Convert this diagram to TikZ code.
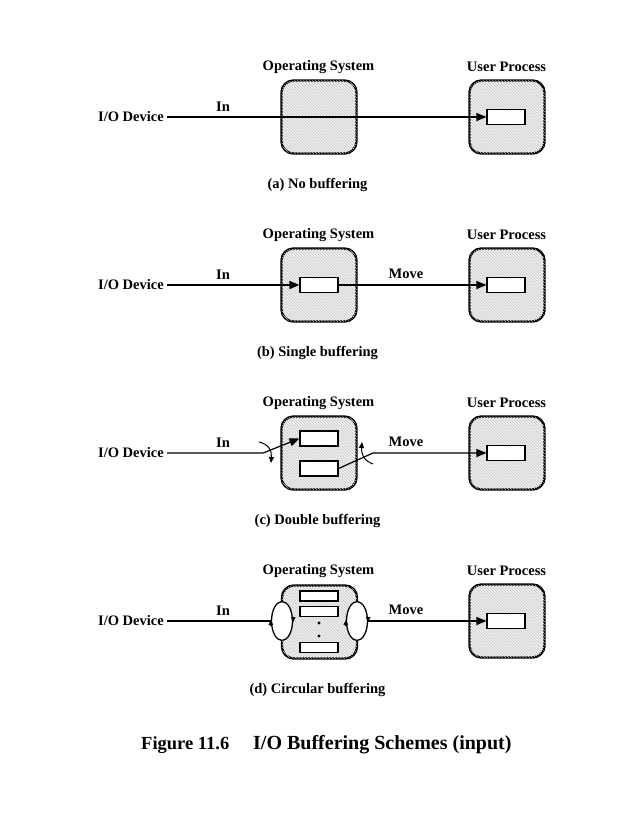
\documentclass[tikz,border=0pt]{standalone}
\usepackage{fontspec}
\setmainfont{Liberation Serif}
\usetikzlibrary{arrows.meta,patterns,shapes.geometric}
\begin{document}
\begin{tikzpicture}[x=1pt,y=-1pt,
  lbl/.style={font=\fontsize{14.5}{17}\selectfont\bfseries, inner sep=0pt},
  figcap/.style={font=\fontsize{18.5}{22}\selectfont\bfseries, inner sep=0pt, anchor=west},
  proc/.style={draw, line width=2.4pt, rounded corners=12pt, minimum width=75pt, minimum height=73pt,
    fill=gray!12, postaction={pattern=north west lines, pattern color=gray!45}},
  buf/.style={draw, fill=white, line width=1.1pt, minimum width=38pt, minimum height=15pt, inner sep=0pt},
  sbuf/.style={buf, minimum height=10pt},
  conn/.style={line width=1.2pt},
  arr/.style={conn, -{Triangle[length=10pt,width=8pt]}},
  sarr/.style={line width=1pt, -{Triangle[length=6pt,width=5pt]}},
  ring/.style={draw, ellipse, line width=1.3pt, fill=white, minimum width=21pt, minimum height=39pt, inner sep=0pt},
  tip/.style={-{Triangle[length=5pt,width=4.5pt]}, line width=0.8pt}
]
\fill[white] (0,0) rectangle (637,824);
\useasboundingbox (0,0) rectangle (637,824);

% ---------------- (a) ----------------
\node[lbl] (osa-t) at (318.5,67) {Operating System};
\node[lbl] (upa-t) at (506.5,67) {User Process};
\node[proc] (osa) at (319,117) {};
\node[proc] (upa) at (507,117) {};
\node[buf] (upa-b) at (506,117) {};
\node[lbl, anchor=east] (ioa) at (164,117) {I/O Device};
\draw[arr] ([xshift=3pt]ioa.east) -- (upa-b.west);
\node[lbl] (ina) at (223,107) {In};
\node[lbl] (capa) at (317.5,185) {(a) No buffering};

% ---------------- (b) ----------------
\node[lbl] (osb-t) at (318.5,235) {Operating System};
\node[lbl] (upb-t) at (506.5,235) {User Process};
\node[proc] (osb) at (319,285) {};
\node[proc] (upb) at (507,285) {};
\node[buf] (osb-b) at (319,285) {};
\node[buf] (upb-b) at (506,285) {};
\node[lbl, anchor=east] (iob) at (164,285) {I/O Device};
\draw[arr] ([xshift=3pt]iob.east) -- (osb-b.west);
\draw[arr] (osb-b.east) -- (upb-b.west);
\node[lbl] (inb) at (223,275) {In};
\node[lbl] (mvb) at (406,274) {Move};
\node[lbl] (capb) at (317.5,353) {(b) Single buffering};

% ---------------- (c) ----------------
\node[lbl] (osc-t) at (318.5,403) {Operating System};
\node[lbl] (upc-t) at (506.5,403) {User Process};
\node[proc] (osc) at (319,453) {};
\node[proc] (upc) at (507,453) {};
\node[buf] (osc-b1) at (319,438.5) {};
\node[buf] (osc-b2) at (319,468.5) {};
\node[buf] (upc-b) at (506,453) {};
\node[lbl, anchor=east] (ioc) at (164,453) {I/O Device};
\coordinate (kc1) at (263,453);
\coordinate (kc2) at (373,453);
\draw[arr] ([xshift=3pt]ioc.east) -- (kc1) -- (osc-b1.west);
\draw[arr] (osc-b2.east) -- (kc2) -- (upc-b.west);
\draw[sarr] (259,442) .. controls (268,444) and (272,450) .. (271,463);
\draw[sarr] (373,464) .. controls (364,461) and (361,454) .. (362,442);
\node[lbl] (inc) at (223,443) {In};
\node[lbl] (mvc) at (406,442) {Move};
\node[lbl] (capc) at (317.5,521) {(c) Double buffering};

% ---------------- (d) ----------------
\node[lbl] (osd-t) at (318.5,571) {Operating System};
\node[lbl] (upd-t) at (506.5,571) {User Process};
\node[proc] (osd) at (319.5,622) {};
\node[proc] (upd) at (507,621) {};
\node[sbuf] (osd-b1) at (319,596) {};
\node[sbuf] (osd-b2) at (319,611.5) {};
\node[sbuf] (osd-b3) at (319,647.5) {};
\fill (319,623) circle[radius=1.6];
\fill (319,636) circle[radius=1.6];
\node[buf] (upd-b) at (506,621) {};
\node[ring] (rl) at (282,621) {};
\node[ring] (rr) at (357,621) {};
\draw[tip] ([yshift=-4pt]rl.west) -- ([yshift=1pt]rl.west);
\draw[tip] ([yshift=4pt]rl.east) -- ([yshift=-1pt]rl.east);
\draw[tip] ([yshift=-4pt]rr.west) -- ([yshift=1pt]rr.west);
\draw[tip] ([yshift=4pt]rr.east) -- ([yshift=-1pt]rr.east);
\node[lbl, anchor=east] (iod) at (164,621) {I/O Device};
\draw[conn] ([xshift=3pt]iod.east) -- (rl.west);
\draw[arr] (rr.east) -- (upd-b.west);
\node[lbl] (ind) at (223,611) {In};
\node[lbl] (mvd) at (406,610) {Move};
\node[lbl] (capd) at (317.5,690) {(d) Circular buffering};

% ---------------- caption ----------------
\node[figcap] (fig1) at (141,745) {Figure 11.6};
\node[figcap, font=\fontsize{20}{23}\selectfont\bfseries] (fig2) at (253,745) {I/O Buffering Schemes (input)};
\end{tikzpicture}
\end{document}
